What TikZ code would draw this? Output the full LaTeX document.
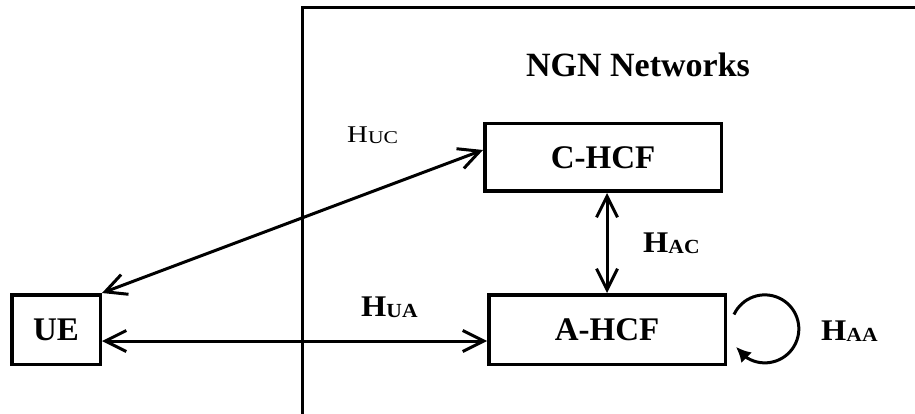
\documentclass[tikz,border=0pt]{standalone}
\usepackage{graphicx}
\usepackage{fontspec}
\setmainfont{Liberation Serif}
\usetikzlibrary{arrows.meta,bending}
\tikzset{
  box/.style={draw, line width=3.5pt, inner sep=0pt, font=\fontsize{33}{33}\selectfont\bfseries},
  link/.style={line width=3pt, {Straight Barb[length=21pt,width=21pt]}-{Straight Barb[length=21pt,width=21pt]}},
  frameline/.style={line width=3pt, line join=miter},
  lab/.style={anchor=base west, inner sep=0pt},
  looparrow/.style={line width=3pt, -{Latex[length=15pt,width=15pt]}}
}
\newcommand{\hbold}[1]{\scalebox{1.08}[1]{\fontsize{30}{30}\selectfont\bfseries H\raisebox{-1.5pt}{\fontsize{20}{20}\selectfont #1}}}
\newcommand{\hreg}[1]{\scalebox{1.2}[1]{\fontsize{24}{24}\selectfont H\raisebox{-1pt}{\fontsize{18}{18}\selectfont #1}}}
\begin{document}
\begin{tikzpicture}[x=1pt,y=-1pt]
\useasboundingbox (0,0) rectangle (915,414);
% network frame
\draw[frameline] (302,414) -- (302,8) -- (915,8);
\node[anchor=base, inner sep=0pt, font=\fontsize{34}{34}\selectfont\bfseries] (title) at (638,77) {NGN Networks};
% boxes
\node[box, minimum width=88.5pt, minimum height=69.5pt] (ue) at (56,329.5) {UE};
\node[box, minimum width=236.5pt, minimum height=67.5pt] (chcf) at (603,157.5) {C-HCF};
\node[box, minimum width=236.5pt, minimum height=69.5pt] (ahcf) at (607,329.5) {A-HCF};
% connectors
\draw[link] (ue.north east) -- ([yshift=7.5pt]chcf.west);
\draw[link] ([yshift=-11.5pt]ue.east) -- ([yshift=-11.5pt]ahcf.west);
\draw[link] (ahcf.north |- chcf.south) -- (ahcf.north);
\coordinate (loopstart) at ([xshift=7pt,yshift=15pt]ahcf.east);
\draw[looparrow] (loopstart) arc[start angle=205, end angle=508, radius=34];
% labels
\node[lab] (huc) at (347,143) {\hreg{UC}};
\node[lab] (hac) at (643,252) {\hbold{AC}};
\node[lab] (hua) at (361,316) {\hbold{UA}};
\node[lab] (haa) at (821,340) {\hbold{AA}};
\end{tikzpicture}
\end{document}
